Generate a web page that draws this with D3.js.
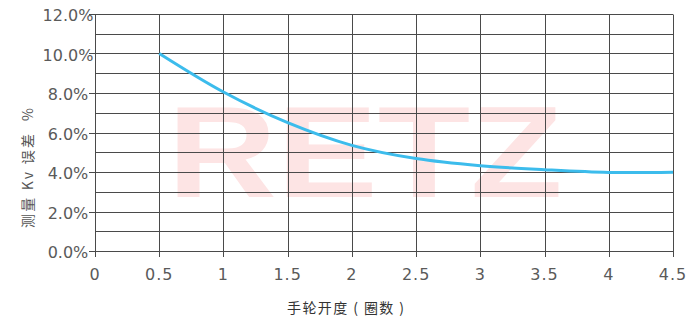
<!DOCTYPE html>
<html><head><meta charset="utf-8">
<script src="https://cdn.jsdelivr.net/npm/d3@7"></script>
<style>
html,body{margin:0;padding:0;background:#fff;}
svg{display:block;}
</style></head>
<body>
<script>
// Data
const turns = [0.5, 1, 1.5, 2, 2.5, 3, 3.5, 4, 4.5];
const errorPct = [10.0, 8.05, 6.5, 5.35, 4.68, 4.32, 4.12, 3.98, 3.99];
const xTicks = [0, 0.5, 1, 1.5, 2, 2.5, 3, 3.5, 4, 4.5];
const xTickLabels = ["0", "0.5", "1", "1.5", "2", "2.5", "3", "3.5", "4", "4.5"];
const yTicks = [0, 2, 4, 6, 8, 10, 12];
const yTickLabels = ["0.0%", "2.0%", "4.0%", "6.0%", "8.0%", "10.0%", "12.0%"];
const yMinor = [1, 3, 5, 7, 9, 11];
const xTitle = "手轮开度 ( 圈数 )";
const yTitle = "测量 Kv 误差  %";
const watermark = "RETZ";

const W = 697, H = 326;
const svg = d3.select("body").append("svg").attr("width", W).attr("height", H);

const x = d3.scaleLinear().domain([0, 4.5]).range([95, 673]);
const y = d3.scaleLinear().domain([0, 12]).range([251, 14]);

// Watermark
svg.append("text")
  .attr("x", x(0.565)).attr("y", y(2.72))
  .attr("textLength", 395).attr("lengthAdjust", "spacingAndGlyphs")
  .attr("font-family", "Liberation Sans, Arial, sans-serif")
  .attr("font-weight", "bold").attr("font-size", 130)
  .attr("fill", "#fde4e4")
  .text(watermark);

const gridColor = "#4a4a4a";
const g = svg.append("g");
// horizontal grid lines
g.selectAll("line.h").data(yTicks.concat(yMinor)).join("line")
  .attr("x1", x(0)).attr("x2", x(4.5))
  .attr("y1", d => Math.round(y(d)) + 0.5).attr("y2", d => Math.round(y(d)) + 0.5)
  .attr("stroke", gridColor).attr("stroke-width", 1);
// vertical grid lines
g.selectAll("line.v").data(xTicks).join("line")
  .attr("x1", d => Math.round(x(d)) + 0.5).attr("x2", d => Math.round(x(d)) + 0.5)
  .attr("y1", Math.round(y(12)) + 0.5).attr("y2", Math.round(y(0)) + 6)
  .attr("stroke", gridColor).attr("stroke-width", 1);
// y ticks
g.selectAll("line.yt").data(yTicks).join("line")
  .attr("x1", x(0) - 6).attr("x2", x(0))
  .attr("y1", d => Math.round(y(d)) + 0.5).attr("y2", d => Math.round(y(d)) + 0.5)
  .attr("stroke", gridColor).attr("stroke-width", 1);

const labelColor = "#5a5a5a";
const font = "DejaVu Sans, sans-serif";
// y tick labels
svg.selectAll("text.yl").data(yTicks).join("text")
  .attr("x", 68).attr("y", (d) => y(d) + 1.5)
  .attr("dy", "0.36em")
  .attr("text-anchor", "middle")
  .attr("font-family", font).attr("font-size", 16)
  .attr("fill", labelColor)
  .text((d, i) => yTickLabels[i]);
// x tick labels
svg.selectAll("text.xl").data(xTicks).join("text")
  .attr("x", d => x(d)).attr("y", 274.5)
  .attr("dy", "0.36em")
  .attr("text-anchor", "middle")
  .attr("font-family", font).attr("font-size", 16)
  .attr("letter-spacing", 1)
  .attr("fill", labelColor)
  .text((d, i) => xTickLabels[i]);

// axis titles
svg.append("text")
  .attr("x", 287).attr("y", 307.5).attr("dy", "0.36em")
  .attr("textLength", 117).attr("lengthAdjust", "spacing")
  .attr("font-family", "Noto Sans CJK SC, sans-serif").attr("font-size", 14)
  .attr("fill", "#333")
  .style("white-space", "pre")
  .text(xTitle);

svg.append("text")
  .attr("transform", "translate(28,228) rotate(-90)")
  .attr("dy", "0.36em")
  .attr("textLength", 120).attr("lengthAdjust", "spacing")
  .attr("font-family", "Noto Sans CJK SC, sans-serif").attr("font-size", 14)
  .attr("fill", "#555")
  .style("white-space", "pre")
  .text(yTitle);

// curve
const line = d3.line()
  .x((d, i) => x(turns[i]))
  .y(d => y(d))
  .curve(d3.curveCatmullRom.alpha(0.5));
svg.append("path")
  .attr("d", line(errorPct))
  .attr("fill", "none")
  .attr("stroke", "#3cbcec")
  .attr("stroke-width", 3)
  .attr("stroke-linecap", "butt");
</script>
</body></html>
